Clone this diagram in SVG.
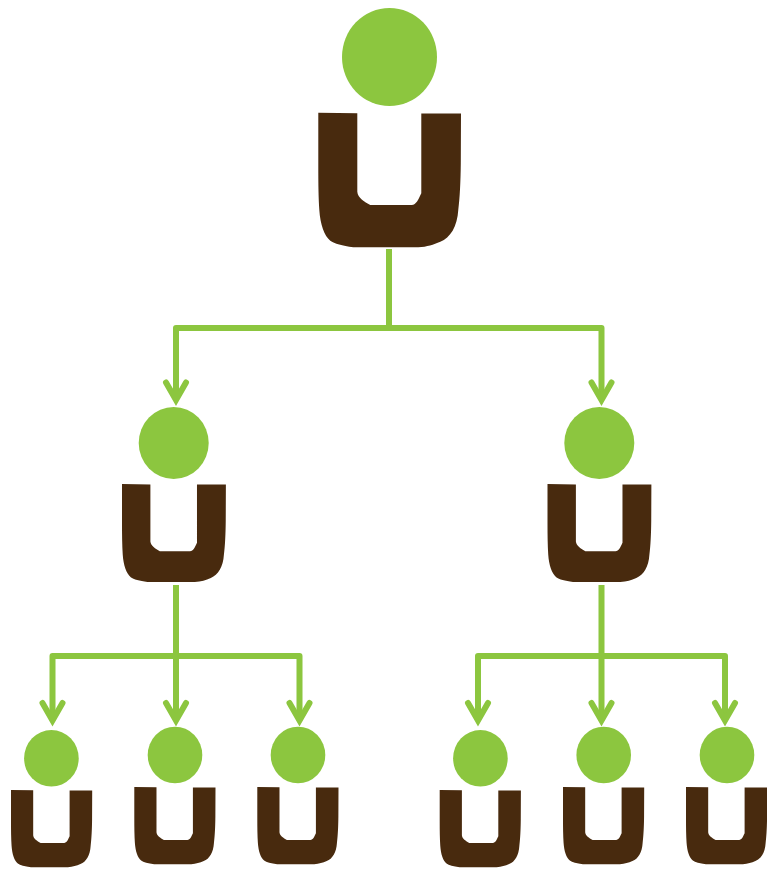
<svg xmlns="http://www.w3.org/2000/svg" xmlns:xlink="http://www.w3.org/1999/xlink" width="767" height="869" viewBox="0 0 767 869">
<style>
.head{fill:#8cc63f}
.body{fill:#482a0e}
.link{fill:none;stroke:#8cc63f;stroke-width:6;stroke-linejoin:round;stroke-linecap:butt}
.tip{fill:none;stroke:#8cc63f;stroke-width:6;stroke-linecap:round;stroke-linejoin:miter}
</style>
<defs>
<path id="u" d="M0,0 L39,0.6 L39,79 C39.500,85 46,89 52,92.300 L93.400,92.300 C98,92 100,87 103,80.600 L103,0.800 L142.700,0.800 L142.500,50 C142.300,70 141.500,85 140,97 C139,114 132,125 122,129 C115,132 109,134 100,134.600 L35,134.600 C24,133 16,131 12,128 C6,123 2,112 1,97 C0.200,85 0,70 0,55 Z"/>
<marker id="arrow" markerUnits="userSpaceOnUse" markerWidth="40" markerHeight="40" viewBox="-30 -20 40 40" refX="0" refY="0" orient="auto" overflow="visible">
<path class="tip" d="M-17.500,-10 L0,0 L-17.500,10"/>
</marker>
</defs>
<rect width="767" height="869" fill="#ffffff"/>
<g id="connectors">
<path class="link" d="M389,249 V328"/>
<path class="link" d="M389,328 H176 V400" marker-end="url(#arrow)"/>
<path class="link" d="M389,328 H601.500 V400" marker-end="url(#arrow)"/>
<path class="link" d="M176,585 V720.500" marker-end="url(#arrow)"/>
<path class="link" d="M176,656 H52.500 V720.500" marker-end="url(#arrow)"/>
<path class="link" d="M176,656 H299.500 V720.500" marker-end="url(#arrow)"/>
<path class="link" d="M601.500,585 V720.500" marker-end="url(#arrow)"/>
<path class="link" d="M601.500,656 H478 V720.500" marker-end="url(#arrow)"/>
<path class="link" d="M601.500,656 H725 V720.500" marker-end="url(#arrow)"/>
</g>
<g id="node-top">
<ellipse class="head" cx="389.500" cy="57" rx="47.500" ry="49"/>
<use href="#u" class="body" transform="translate(318.300,112.700)"/>
</g>
<g id="node-mid-left">
<ellipse class="head" cx="173.700" cy="443" rx="35" ry="36"/>
<use href="#u" class="body" transform="translate(122,484) scale(0.728)"/>
</g>
<g id="node-mid-right">
<ellipse class="head" cx="599.300" cy="443" rx="35" ry="36"/>
<use href="#u" class="body" transform="translate(547.500,484) scale(0.728)"/>
</g>
<g id="node-leaf-1">
<ellipse class="head" cx="51.400" cy="758.300" rx="27.300" ry="28.300"/>
<use href="#u" class="body" transform="translate(11,790) scale(0.569,0.574)"/>
</g>
<g id="node-leaf-2">
<ellipse class="head" cx="175" cy="755" rx="27.300" ry="28.300"/>
<use href="#u" class="body" transform="translate(134.300,787) scale(0.569,0.574)"/>
</g>
<g id="node-leaf-3">
<ellipse class="head" cx="298" cy="755" rx="27.300" ry="28.300"/>
<use href="#u" class="body" transform="translate(257.300,787) scale(0.569,0.574)"/>
</g>
<g id="node-leaf-4">
<ellipse class="head" cx="480.400" cy="758.300" rx="27.300" ry="28.300"/>
<use href="#u" class="body" transform="translate(439.700,790) scale(0.569,0.574)"/>
</g>
<g id="node-leaf-5">
<ellipse class="head" cx="603.700" cy="755" rx="27.300" ry="28.300"/>
<use href="#u" class="body" transform="translate(563,787) scale(0.569,0.574)"/>
</g>
<g id="node-leaf-6">
<ellipse class="head" cx="727" cy="755" rx="27.300" ry="28.300"/>
<use href="#u" class="body" transform="translate(686,787) scale(0.569,0.574)"/>
</g>
</svg>
